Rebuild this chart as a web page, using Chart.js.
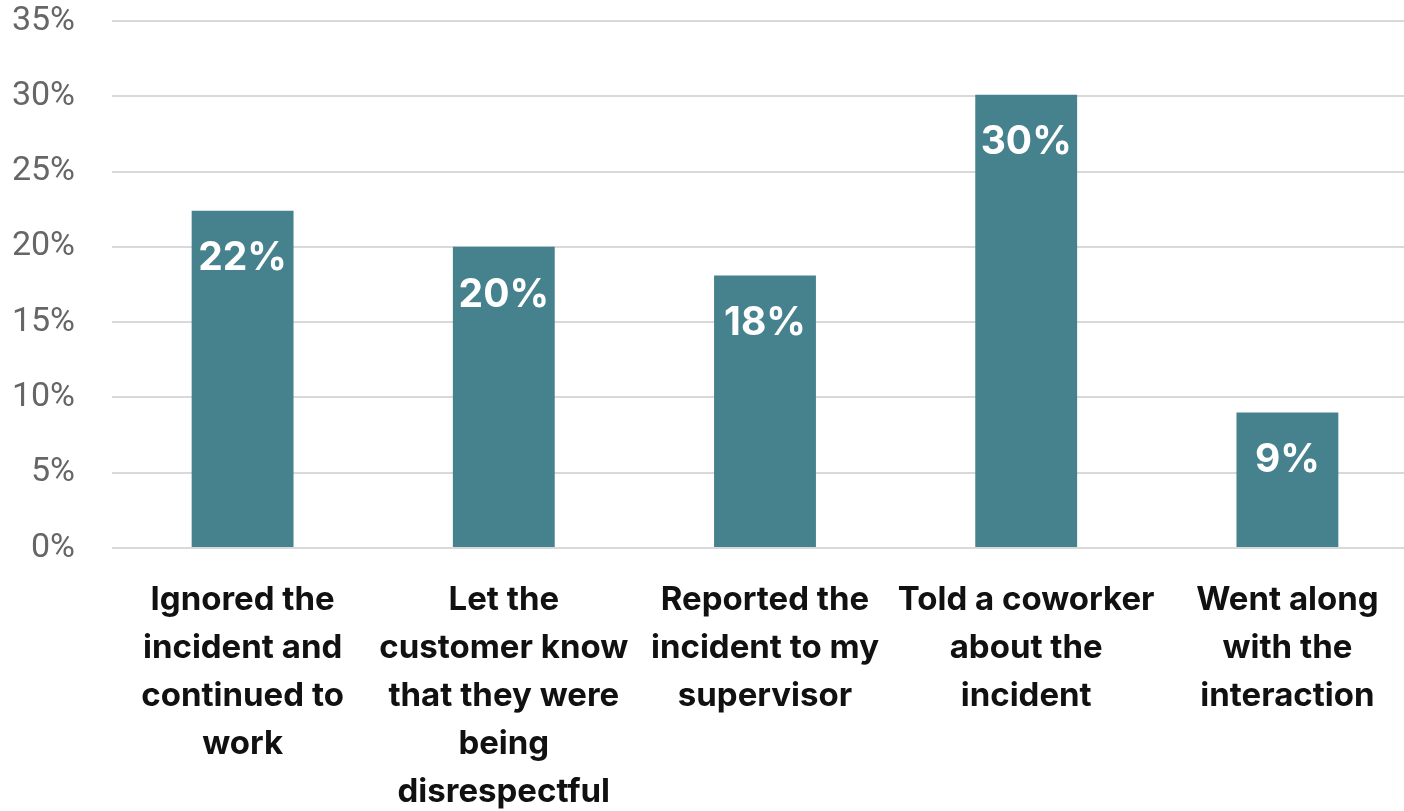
<!DOCTYPE html>
<html lang="en">
<head>
  <meta charset="UTF-8">
  <title>Responses to incident</title>
  <script src="https://cdn.jsdelivr.net/npm/chart.js"></script>
  <style>
    html, body { margin: 0; padding: 0; background: #fff; overflow: hidden; }
    /* plot runs slightly past the right edge of the window, like the original */
    .wrap { width: 1418px; height: 811px; }
  </style>
</head>
<body>
  <div class="wrap"><canvas id="chart"></canvas></div>

<script>
// data
const categories = [
  ["Ignored the", "incident and", "continued to", "work"],
  ["Let the", "customer know", "that they were", "being", "disrespectful"],
  ["Reported the", "incident to my", "supervisor"],
  ["Told a coworker", "about the", "incident"],
  ["Went along", "with the", "interaction"]
];
const shares = [22.4, 20.0, 18.1, 30.1, 9.0];
const shareLabels = ["22%", "20%", "18%", "30%", "9%"];
const yTicks = [0, 5, 10, 15, 20, 25, 30, 35];

const barColor = '#46818e';

// white value labels inside the top of each bar
const valueLabels = {
  id: 'valueLabels',
  afterDatasetsDraw(chart) {
    const ctx = chart.ctx;
    const meta = chart.getDatasetMeta(0);
    ctx.save();
    ctx.fillStyle = '#ffffff';
    ctx.font = 'bold 39px Inter, "Open Sans", sans-serif';
    ctx.textAlign = 'center';
    ctx.textBaseline = 'middle';
    meta.data.forEach((bar, i) => {
      ctx.fillText(shareLabels[i], bar.x, bar.y + 48);
    });
    ctx.restore();
  }
};

new Chart(document.getElementById('chart'), {
  type: 'bar',
  data: {
    labels: categories,
    datasets: [{
      data: shares,
      backgroundColor: barColor,
      categoryPercentage: 1,
      barPercentage: 0.39
    }]
  },
  options: {
    responsive: true,
    maintainAspectRatio: false,
    animation: false,
    layout: { padding: { top: 21, right: 0, left: 0, bottom: 0 } },
    plugins: {
      legend: { display: false },
      tooltip: { enabled: false }
    },
    scales: {
      x: {
        grid: { display: false },
        border: { display: false },
        ticks: {
          color: '#111',
          font: { family: 'Inter, "Open Sans", sans-serif', size: 33, weight: 'bold', lineHeight: 1.455 },
          maxRotation: 0,
          autoSkip: false,
          padding: 20
        },
        afterFit(scale) {
          scale.height = 263;
          scale.paddingLeft = 0;
          scale.paddingRight = 0;
        }
      },
      y: {
        min: 0,
        max: 35,
        afterBuildTicks(axis) { axis.ticks = yTicks.map(v => ({ value: v })); },
        grid: { color: '#d9d9d9', lineWidth: 2, drawTicks: false },
        border: { display: false },
        ticks: {
          color: '#666',
          font: { family: 'Roboto, sans-serif', size: 34 },
          padding: 37,
          callback: v => v + '%'
        },
        afterFit(scale) {
          scale.width = 112;
          scale.paddingTop = 0;
          scale.paddingBottom = 0;
        }
      }
    }
  },
  plugins: [valueLabels]
});
</script>
</body>
</html>
